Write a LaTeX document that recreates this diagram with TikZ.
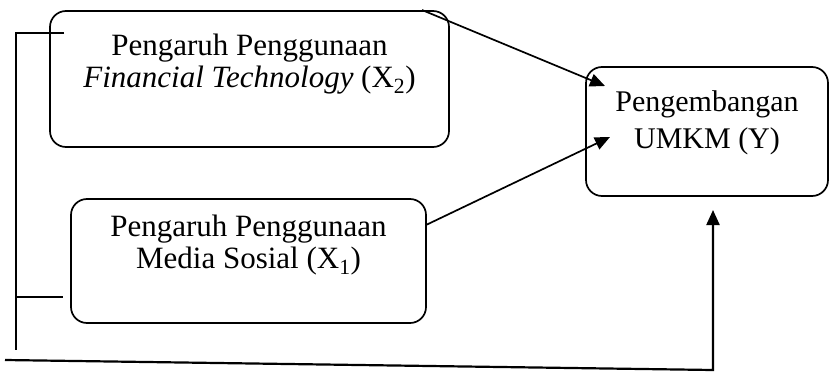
\documentclass[tikz,border=0pt]{standalone}
\usepackage{fontspec}
\setmainfont{Liberation Serif}
\usetikzlibrary{positioning,arrows.meta}
\tikzset{box/.style={draw, rounded corners=16pt, line width=1.7pt},
  lbl/.style={inner sep=0pt, align=center, font=\fontsize{31}{31.5}\selectfont},
  flow/.style={line width=1.7pt, -{Triangle[length=15pt,width=13pt]}}}

\begin{document}
\begin{tikzpicture}[x=1pt, y=-1pt]
    \useasboundingbox (0,0) rectangle (829,372);
    % the three variables
    \node[box, minimum width=399pt, minimum height=136pt] (x2) at (249.5,79) {};
    \node[box, minimum width=355pt, minimum height=124pt] (x1) at (248.5,261) {};
    \node[box, minimum width=242pt, minimum height=129pt] (y) at (707,131.5) {};
    \node[lbl, below=24pt of x2.north] (x2txt) {Pengaruh Penggunaan\\\textit{Financial Technology} (X\textsubscript{2})};
    \node[lbl, below=17pt of x1.north] (x1txt) {Pengaruh Penggunaan\\Media Sosial (X\textsubscript{1})};
    \node[lbl, font=\fontsize{30}{37}\selectfont, below=24pt of y.north] (ytxt) {Pengembangan\\UMKM (Y)};
    % bracket joining X1 and X2
    \coordinate (btop) at (16,33);
    \coordinate (bbot) at (16,350);
    \draw[line width=1.7pt] (64,33) -- (btop) -- (bbot);
    \draw[line width=1.7pt] (16,297) -- (63,297);
    % partial effects
    \coordinate (x2out) at (422,10);
    \coordinate (yin2) at (605,86);
    \coordinate (x1out) at (426,225);
    \coordinate (yin1) at (610,137);
    \draw[flow] (x2out) -- (yin2);
    \draw[flow] (x1out) -- (yin1);
    % joint effect
    \coordinate (base) at (5,360);
    \coordinate (turn) at (713,370);
    \coordinate (yin) at (713,210);
    \draw[flow, line width=2.2pt] (base) -- (turn) -- (yin);
  \end{tikzpicture}
\end{document}
